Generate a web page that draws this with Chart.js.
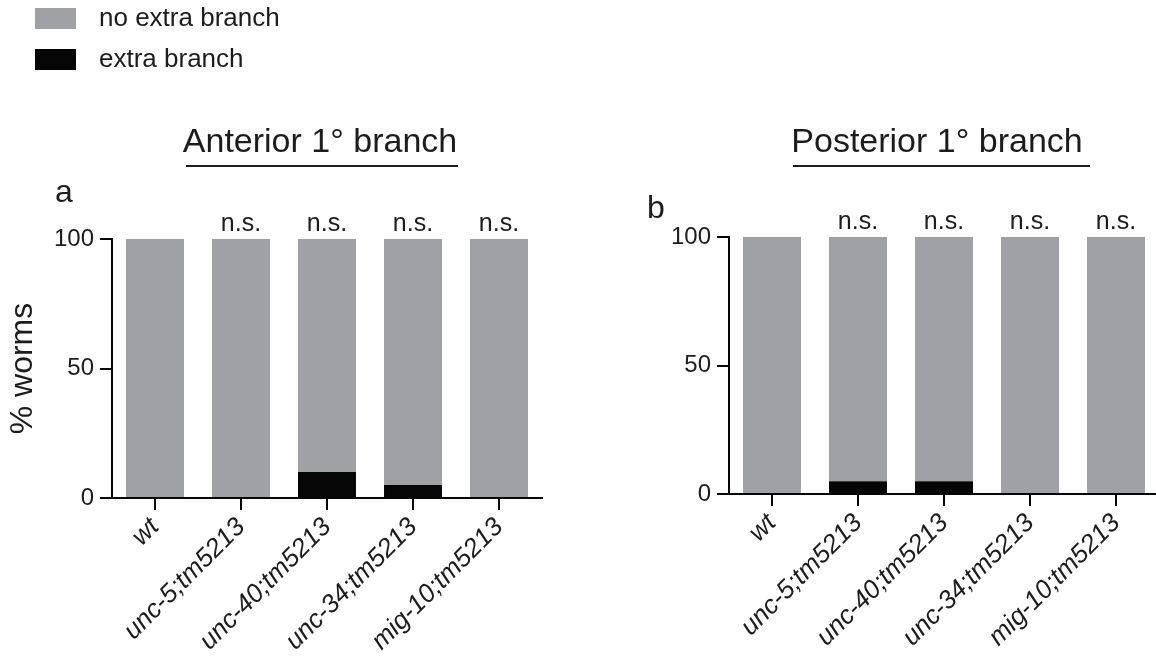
<!DOCTYPE html>
<html>
<head>
<meta charset="utf-8">
<script src="https://cdn.jsdelivr.net/npm/chart.js@4.4.1/dist/chart.umd.min.js"></script>
<style>
  html, body { margin: 0; padding: 0; background: #fff; overflow: hidden; }
  body { width: 1156px; height: 656px; position: relative; }
  canvas { position: absolute; top: 0; }
  #anterior { left: 0; }
  #posterior { left: 580px; }
</style>
</head>
<body>
<canvas id="anterior" width="580" height="656"></canvas>
<canvas id="posterior" width="600" height="656"></canvas>
<script>
// strains on the x axis, same for both panels
const strains = ["wt", "unc-5;tm5213", "unc-40;tm5213", "unc-34;tm5213", "mig-10;tm5213"];
const yTicks = [0, 50, 100];
const seriesNames = ["extra branch", "no extra branch"];

// panel a - anterior 1° branch (% worms)
const anteriorExtra = [0, 0, 10, 5, 0];
const anteriorNone = [100, 100, 90, 95, 100];
const anteriorSig = ["", "n.s.", "n.s.", "n.s.", "n.s."];

// panel b - posterior 1° branch (% worms)
const posteriorExtra = [0, 5, 5, 0, 0];
const posteriorNone = [100, 95, 95, 100, 100];
const posteriorSig = ["", "n.s.", "n.s.", "n.s.", "n.s."];

const FONT = "'Liberation Sans', Arial, Helvetica, sans-serif";
const GRAY = "#a0a1a5";
const BLACK = "#060606";
const INK = "#1c1c1c";

// titles, underline, panel letter, n.s. marks and the legend
const panelText = {
  id: "panelText",
  afterDraw(chart, args, opts) {
    const ctx = chart.ctx;
    const xs = chart.scales.x;
    const ys = chart.scales.y;
    ctx.save();
    ctx.fillStyle = INK;
    ctx.strokeStyle = INK;

    ctx.font = "34px " + FONT;
    ctx.textAlign = "center";
    ctx.textBaseline = "alphabetic";
    ctx.fillText(opts.title, opts.titleX, 152);

    ctx.lineWidth = 2;
    ctx.beginPath();
    ctx.moveTo(opts.lineFrom, 166);
    ctx.lineTo(opts.lineTo, 166);
    ctx.stroke();

    ctx.font = "32px " + FONT;
    ctx.textAlign = "left";
    ctx.fillText(opts.letter, opts.letterX, opts.letterY);

    ctx.font = "25px " + FONT;
    ctx.textAlign = "center";
    const top = ys.getPixelForValue(100);
    opts.sig.forEach((s, i) => {
      if (s) ctx.fillText(s, xs.getPixelForValue(i), top - 8);
    });

    if (opts.legend) {
      const sets = chart.data.datasets.slice().reverse();
      ctx.font = "26px " + FONT;
      ctx.textBaseline = "middle";
      ctx.textAlign = "left";
      sets.forEach((ds, k) => {
        const y0 = 8 + k * 41;
        ctx.fillStyle = ds.backgroundColor;
        ctx.fillRect(35, y0, 41, 21);
        ctx.fillStyle = INK;
        ctx.fillText(ds.label, 99, y0 + 11);
      });
    }
    ctx.restore();
  }
};

function makeScales(yWidth, xHeight, showTitle) {
  return {
    x: {
      stacked: true,
      afterFit: (s) => { s.height = xHeight; },
      border: { color: BLACK, width: 2 },
      grid: { display: true, drawOnChartArea: false, offset: false, color: BLACK, lineWidth: 2, tickLength: 12 },
      ticks: {
        color: INK,
        font: { family: FONT, size: 26, style: "italic" },
        minRotation: 45,
        maxRotation: 45,
        autoSkip: false,
        padding: 2
      }
    },
    y: {
      stacked: true,
      min: 0,
      max: 100,
      afterFit: (s) => { s.width = yWidth; },
      afterBuildTicks: (s) => { s.ticks = yTicks.map((v) => ({ value: v })); },
      border: { color: BLACK, width: 2 },
      grid: { display: true, drawOnChartArea: false, color: BLACK, lineWidth: 2, tickLength: 12 },
      ticks: { color: INK, padding: 6, font: { family: FONT, size: 24 } },
      title: {
        display: showTitle,
        text: "% worms",
        color: INK,
        font: { family: FONT, size: 32 },
        padding: { top: 4, bottom: 0 }
      }
    }
  };
}

function makeChart(id, extra, none, scales, padding, textOpts) {
  return new Chart(document.getElementById(id), {
    type: "bar",
    data: {
      labels: strains,
      datasets: [
        { label: seriesNames[0], data: extra, backgroundColor: BLACK },
        { label: seriesNames[1], data: none, backgroundColor: GRAY }
      ]
    },
    options: {
      responsive: false,
      animation: false,
      devicePixelRatio: 1,
      barPercentage: 0.674,
      categoryPercentage: 1,
      layout: { padding: padding },
      plugins: {
        legend: { display: false },
        tooltip: { enabled: false },
        panelText: textOpts
      },
      scales: scales
    },
    plugins: [panelText]
  });
}

makeChart("anterior", anteriorExtra, anteriorNone,
  makeScales(112, 158, true),
  { top: 239, right: 38, bottom: 0, left: 0 },
  { title: "Anterior 1° branch", titleX: 320, lineFrom: 186, lineTo: 458,
    letter: "a", letterX: 55, letterY: 202, sig: anteriorSig, legend: true });

makeChart("posterior", posteriorExtra, posteriorNone,
  makeScales(149, 162, false),
  { top: 237, right: 21, bottom: 0, left: 0 },
  { title: "Posterior 1° branch", titleX: 357, lineFrom: 213, lineTo: 510,
    letter: "b", letterX: 67, letterY: 218, sig: posteriorSig, legend: false });
</script>
</body>
</html>
